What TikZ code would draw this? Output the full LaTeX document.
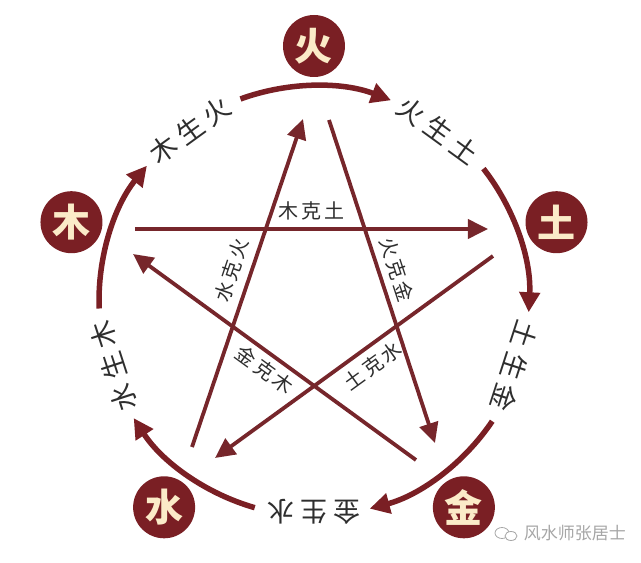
\documentclass[tikz,border=0pt]{standalone}
\usepackage{fontspec}
\setmainfont{Noto Sans CJK SC}
\usetikzlibrary{arrows.meta}
\definecolor{wxred}{HTML}{7A1F24}
\definecolor{wxline}{HTML}{76262B}
\definecolor{wxcream}{HTML}{FBEBC8}
\definecolor{wxgray}{HTML}{2E2E2E}
\definecolor{wxmark}{HTML}{A6A6A6}

\begin{document}
\begin{tikzpicture}[
  x=1pt, y=1pt,
  element/.style={circle, fill=wxred, minimum size=62pt, inner sep=0pt, text=wxcream, font=\fontsize{38}{38}\selectfont\bfseries},
  ringlabel/.style={text=wxgray, inner sep=0pt, font=\fontsize{27}{27}\selectfont},
  starlabel/.style={text=wxgray, inner sep=1pt, font=\fontsize{20}{20}\selectfont},
  ring/.style={line width=5.5pt, draw=wxred, -{Triangle[length=20pt, width=20pt]}},
  arrow/.style={line width=3.8pt, draw=wxline, -{Triangle[length=20pt, width=19pt]}}
]
\useasboundingbox (-314,-262) rectangle (327,301);

% Elements
\node[element] (huo) at (90:255) {火};
\node[element] (tu) at (18:255) {土};
\node[element] (jin) at (-54:255) {金};
\node[element] (shui) at (-126:255) {水};
\node[element] (mu) at (162:255) {木};

% Generating cycle
\coordinate (huo-a) at (110:215);
\coordinate (tu-a) at (38:215);
\coordinate (jin-a) at (-34:215);
\coordinate (shui-a) at (-106:215);
\coordinate (mu-a) at (182:215);
\draw[ring] (huo-a) arc[start angle=110, end angle=69, radius=215];
\draw[ring] (tu-a) arc[start angle=38, end angle=-3, radius=215];
\draw[ring] (jin-a) arc[start angle=-34, end angle=-75, radius=215];
\draw[ring] (shui-a) arc[start angle=-106, end angle=-147, radius=215];
\draw[ring] (mu-a) arc[start angle=182, end angle=141, radius=215];

\node[ringlabel, rotate=36] (mu-huo) at (126:211) {木\hspace{6pt}生\hspace{6pt}火};
\node[ringlabel, rotate=-36] (huo-tu) at (54:211) {火\hspace{6pt}生\hspace{6pt}土};
\node[ringlabel, rotate=-108] (tu-jin) at (-18:211) {土\hspace{6pt}生\hspace{6pt}金};
\node[ringlabel, rotate=-180] (jin-shui) at (-90:211) {金\hspace{6pt}生\hspace{6pt}水};
\node[ringlabel, rotate=108] (shui-mu) at (198:211) {水\hspace{6pt}生\hspace{6pt}木};

% Controlling cycle
\coordinate (mu-s) at (-179,72);
\coordinate (tu-e) at (174,72);
\coordinate (tu-s) at (179,45);
\coordinate (shui-e) at (-99,-157);
\coordinate (shui-s) at (-122,-146);
\coordinate (huo-e) at (-11,182);
\coordinate (huo-s) at (15,181);
\coordinate (jin-e) at (121,-142);
\coordinate (jin-s) at (102,-159);
\coordinate (mu-e) at (-181,47);

\draw[arrow] (mu-s) -- node[starlabel, midway, sloped, above=6pt] {木\hspace{3pt}克\hspace{3pt}土} (tu-e);
\draw[arrow] (tu-s) -- node[starlabel, pos=0.47, sloped, below=6pt] {土\hspace{3pt}克\hspace{3pt}水} (shui-e);
\draw[arrow] (shui-s) -- node[starlabel, pos=0.52, sloped, above=7pt] {水\hspace{3pt}克\hspace{3pt}火} (huo-e);
\draw[arrow] (huo-s) -- node[starlabel, pos=0.48, sloped, above=6pt] {火\hspace{3pt}克\hspace{3pt}金} (jin-e);
\draw[arrow] (jin-s) -- node[starlabel, midway, sloped, below=4pt] {金\hspace{3pt}克\hspace{3pt}木} (mu-e);

% Watermark
\draw[wxmark, line width=0.8pt] (188,-232) ellipse[x radius=7, y radius=5.5];
\draw[wxmark, line width=0.8pt, fill=white] (197,-235) ellipse[x radius=6, y radius=4.5];
\node[text=wxmark, inner sep=0pt, font=\fontsize{17}{17}\selectfont] (mark) at (261,-232) {风水师张居士};

\end{tikzpicture}
\end{document}
